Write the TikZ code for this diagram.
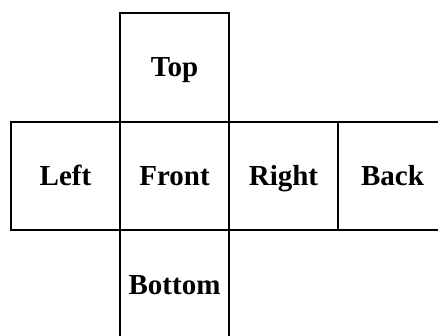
\documentclass[tikz,border=0pt]{standalone}
\usepackage{fontspec}
\setmainfont{Liberation Serif}
\begin{document}
\begin{tikzpicture}[x=1pt,y=-1pt,
  face/.style={draw=black, line width=2pt, rectangle, minimum width=109pt, minimum height=108.5pt, inner sep=0pt, text height=19pt, text depth=0pt, font=\fontsize{29}{34}\selectfont\bfseries}]
\useasboundingbox (0,0) rectangle (438,336);
\clip (0,0) rectangle (438,336);
\node[face] (top) at (174.5,67.5) {Top};
\node[face] (left) at (65.5,176) {Left};
\node[face] (front) at (174.5,176) {Front};
\node[face] (right) at (283.5,176) {Right};
\node[face] (back) at (392.5,176) {Back};
\node[face] (bottom) at (174.5,284.5) {Bottom};
\end{tikzpicture}
\end{document}
